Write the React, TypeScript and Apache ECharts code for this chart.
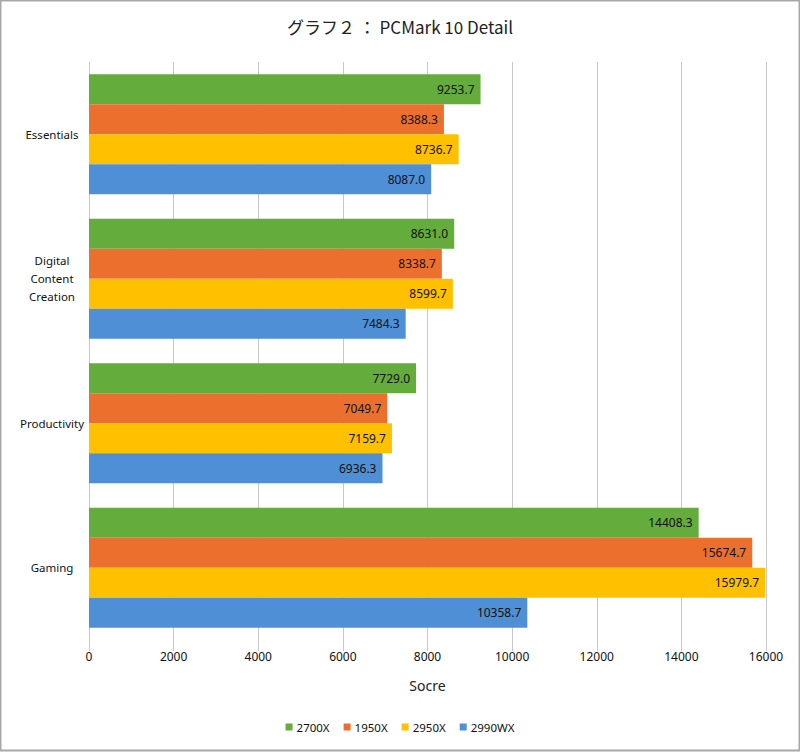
import React, { useEffect, useRef } from "react";
import * as echarts from "echarts";

const categories = ["Essentials", "Digital Content Creation", "Productivity", "Gaming"];
const seriesNames = ["2700X", "1950X", "2950X", "2990WX"];
const values2700X = [9253.7, 8631.0, 7729.0, 14408.3];
const values1950X = [8388.3, 8338.7, 7049.7, 15674.7];
const values2950X = [8736.7, 8599.7, 7159.7, 15979.7];
const values2990WX = [8087.0, 7484.3, 6936.3, 10358.7];
const xTicks = [0, 2000, 4000, 6000, 8000, 10000, 12000, 14000, 16000];

const colors = ["#64ac3b", "#eb702d", "#ffc000", "#4f8fd5"];
const FONT = "'Noto Sans', 'Open Sans', sans-serif";

export default function App() {
  const ref = useRef<HTMLDivElement>(null);
  useEffect(() => {
    const chart = echarts.init(ref.current!, null, { renderer: "svg" });
    const all = [values2700X, values1950X, values2950X, values2990WX];
    chart.setOption({
      animation: false,
      backgroundColor: "#ffffff",
      color: colors,
      title: {
        text: "グラフ２ ： PCMark 10 Detail",
        left: "center",
        top: 13,
        textStyle: {
          fontFamily: "'Noto Sans CJK JP', sans-serif",
          fontSize: 17,
          fontWeight: "normal",
          color: "#222",
        },
      },
      legend: {
        data: seriesNames,
        bottom: 14,
        left: "center",
        itemWidth: 7,
        itemHeight: 7,
        itemGap: 14,
        icon: "rect",
        textStyle: { fontFamily: FONT, fontSize: 11.5, color: "#111", padding: [0, 0, 0, -1] },
      },
      grid: { left: 89, right: 34, top: 62, bottom: 112, containLabel: false },
      xAxis: {
        type: "value",
        min: xTicks[0],
        max: xTicks[xTicks.length - 1],
        interval: 2000,
        name: "Socre",
        nameLocation: "middle",
        nameGap: 38,
        nameTextStyle: { fontFamily: FONT, fontSize: 14, color: "#222" },
        axisLine: { show: false },
        axisTick: { show: true, length: 11, lineStyle: { color: "#c8c8c8" } },
        axisLabel: {
          fontFamily: FONT,
          fontSize: 12,
          color: "#111",
          margin: 10,
          formatter: (v: number) => String(v),
        },
        splitLine: { show: true, lineStyle: { color: "#c8c8c8", width: 1 } },
      },
      yAxis: {
        type: "category",
        data: categories,
        inverse: true,
        axisLine: { show: true, lineStyle: { color: "#c8c8c8" } },
        axisTick: { show: false },
        axisLabel: {
          margin: 12,
          fontFamily: FONT,
          fontSize: 11.5,
          color: "#111",
          formatter: (v: string) =>
            v
              .split(" ")
              .map((w) => `{a|${w}}`)
              .join("\n"),
          rich: {
            a: { fontFamily: FONT, fontSize: 11.5, color: "#111", align: "center", width: 50, lineHeight: 18 },
          },
        },
      },
      series: seriesNames.map((name, i) => ({
        name,
        type: "bar",
        data: all[i],
        barGap: "0%",
        barCategoryGap: "17%",
        label: {
          show: true,
          position: "insideRight",
          distance: 6,
          formatter: (p: any) => Number(p.value).toFixed(1),
          fontFamily: FONT,
          fontSize: 12,
          color: "#111",
        },
      })),
      graphic: [
        {
          type: "rect",
          shape: { x: 0.5, y: 0.5, width: 799, height: 750 },
          style: { fill: "none", stroke: "#a8a8a8", lineWidth: 2 },
          silent: true,
        },
      ],
    });
    return () => chart.dispose();
  }, []);
  return (
    <div
      ref={ref}
      style={{ position: "fixed", left: 0, top: 0, width: 800, height: 752 }}
    />
  );
}
